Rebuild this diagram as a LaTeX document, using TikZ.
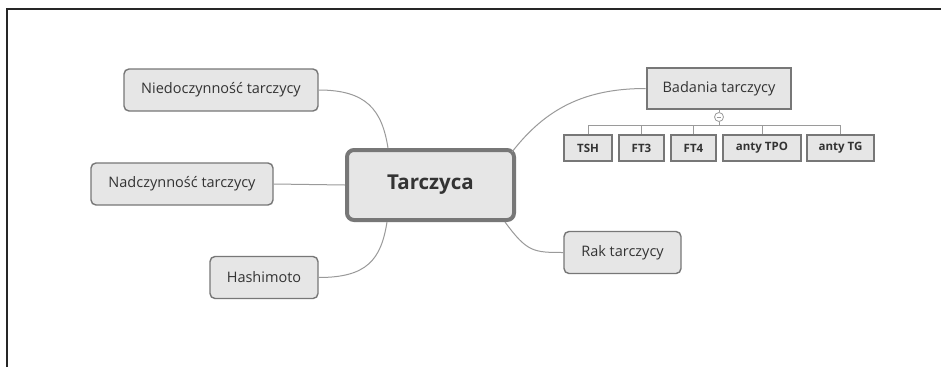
\documentclass[tikz,border=0pt]{standalone}
\usepackage{fontspec}
\setmainfont{Open Sans}
\usetikzlibrary{calc}
\definecolor{boxfill}{HTML}{E6E6E6}
\definecolor{boxline}{HTML}{777777}
\definecolor{txt}{HTML}{333333}
\definecolor{conn}{HTML}{9A9A9A}
\tikzset{
  topic/.style={draw=boxline, fill=boxfill, rounded corners=5pt, line width=1.4pt,
    text=txt, font=\fontsize{14.5}{16}\selectfont, inner sep=0pt, minimum height=42pt},
  central/.style={draw=boxline, fill=boxfill, rounded corners=7pt, line width=4pt,
    text=txt, font=\fontsize{20.5}{24}\selectfont\bfseries, inner sep=0pt,
    minimum width=167pt, minimum height=70pt},
  squarebox/.style={draw=boxline, fill=boxfill, line width=2.6pt,
    text=txt, font=\fontsize{14.5}{16}\selectfont, inner sep=0pt, minimum width=144pt, minimum height=41pt},
  leaf/.style={draw=boxline, fill=boxfill, line width=2.6pt,
    text=txt, font=\fontsize{11.5}{13}\selectfont\bfseries, inner sep=0pt, minimum height=26pt},
  link/.style={draw=conn, line width=1pt},
  frameline/.style={draw=black!85, line width=1.6pt}
}
\begin{document}
\begin{tikzpicture}[x=1pt,y=-1pt]
\useasboundingbox (0,0) rectangle (941,367);
\fill[white] (0,0) rectangle (941,367);
\draw[frameline] (7,367) -- (7,9) -- (941,9);

% nodes
\node[central] (T) at (430.5,185) {Tarczyca};
\node[topic, minimum width=194pt] (N) at (221,90) {Niedoczynność tarczycy};
\node[topic, minimum width=182pt] (D) at (182,184) {Nadczynność tarczycy};
\node[topic, minimum width=108pt] (H) at (264,277.5) {Hashimoto};
\node[topic, minimum width=117pt] (R) at (622.5,252.5) {Rak tarczycy};
\node[squarebox] (B) at (719,88.5) {Badania tarczycy};
\node[circle, draw=conn, fill=white, line width=0.8pt, minimum size=9pt, inner sep=0pt] (C) at (719,117) {};
\draw[conn, line width=0.8pt] ($(C.center)+(-2.3,0)$) -- ($(C.center)+(2.3,0)$);
\node[leaf, minimum width=48pt] (L1) at (588,148) {TSH};
\node[leaf, minimum width=45pt] (L2) at (641.5,148) {FT3};
\node[leaf, minimum width=45pt] (L3) at (693.5,148) {FT4};
\node[leaf, minimum width=78pt] (L4) at (762,148) {anty TPO};
\node[leaf, minimum width=67pt] (L5) at (840.5,148) {anty TG};

% connectors
\draw[link] (N.east) .. controls +(48,0) and +(-6,-38) .. ($(T.north west)+(43,0)$);
\draw[link] (D.east) -- (T.west);
\draw[link] (H.east) .. controls +(48,0) and +(-6,38) .. ($(T.south west)+(42,0)$);
\draw[link] ($(T.north east)+(-4,4)$) .. controls +(34,-44) and +(-60,0) .. (B.west);
\draw[link] ($(T.south east)+(-11,0)$) .. controls +(22,30) and +(-30,0) .. (R.west);

% Badania tree
\draw[link] (B.south) -- (C.north);
\coordinate (bus) at ($(C.south)+(0,4)$);
\draw[link] (C.south) -- (bus);
\foreach \l in {L1,L2,L3,L4,L5} { \draw[link] (\l.north) |- (bus); }
\end{tikzpicture}
\end{document}
